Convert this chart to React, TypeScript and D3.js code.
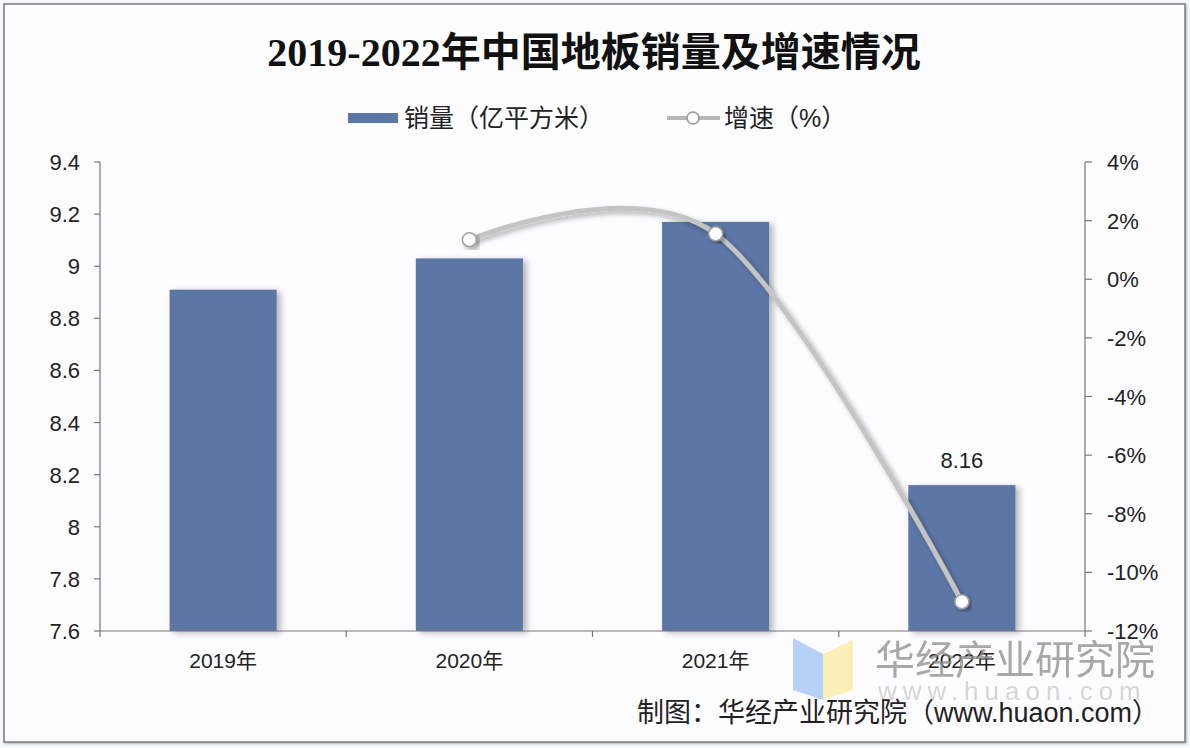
import React from "react";
import * as d3 from "d3";

const years = ["2019年", "2020年", "2021年", "2022年"];
const sales = [8.91, 9.03, 9.17, 8.16];
const growthYears = ["2020年", "2021年", "2022年"];
const growth = [1.35, 1.55, -11.0];
const leftTicks = [7.6, 7.8, 8, 8.2, 8.4, 8.6, 8.8, 9, 9.2, 9.4];
const rightTicks = [-12, -10, -8, -6, -4, -2, 0, 2, 4];
const labeledIndex = [3];

const W = 1190;
const H = 748;
const plot = { left: 100, right: 1085, top: 162, bottom: 631 };
const sansFont = "'Liberation Sans', Arial, 'Noto Sans CJK SC', sans-serif";
const cjkFont = "'Liberation Sans', 'Noto Sans CJK SC', sans-serif";

export default function App() {
  const x = d3.scaleBand().domain(years).range([plot.left, plot.right]).paddingInner(0.565).paddingOuter(0.2825);
  const yL = d3.scaleLinear().domain([7.6, 9.4]).range([plot.bottom, plot.top]);
  const yR = d3.scaleLinear().domain([-12, 4]).range([plot.bottom, plot.top]);
  const cx = (c: string) => (x(c) as number) + x.bandwidth() / 2;
  const step = x.step();
  const boundaries = d3.range(years.length + 1).map((i) => plot.left + i * step);

  const linePts: [number, number][] = growthYears.map((c, i) => [cx(c), yR(growth[i])]);
  const lineGen = d3.line().curve(d3.curveCatmullRom.alpha(0));
  const linePath = lineGen(linePts) || "";

  return (
    <svg width={W} height={H} style={{ position: "absolute", left: 0, top: 0, background: "#fff" }}>
      <defs>
        <filter id="barShadow" x="-20%" y="-10%" width="150%" height="130%">
          <feDropShadow dx="4" dy="2" stdDeviation="3" floodColor="#000" floodOpacity="0.28" />
        </filter>
        <filter id="lineShadow" x="-10%" y="-10%" width="130%" height="130%">
          <feDropShadow dx="3" dy="3" stdDeviation="2.5" floodColor="#000" floodOpacity="0.3" />
        </filter>
        <filter id="frameShadow" x="-5%" y="-5%" width="110%" height="110%">
          <feDropShadow dx="1" dy="1" stdDeviation="1" floodColor="#000" floodOpacity="0.3" />
        </filter>
      </defs>
      <rect x={0} y={0} width={W} height={H} fill="#f7f8fb" />
      <rect x={4} y={4} width={1181} height={738} fill="#fdfdff" stroke="#7a7a7a" strokeWidth={1.5} filter="url(#frameShadow)" />

      {/* Title */}
      <text x={594} y={66} textAnchor="middle" fontSize={40} fontWeight="bold" fill="#111"
        fontFamily="'Liberation Serif', 'Noto Sans CJK SC', serif">2019-2022年中国地板销量及增速情况</text>

      {/* Legend */}
      <rect x={348} y={113} width={50} height={10} fill="#5b77a6" />
      <text x={404} y={127} fontSize={25} fill="#222" fontFamily={cjkFont}>销量（亿平方米）</text>
      <line x1={667} x2={720} y1={118} y2={118} stroke="#b8b8b8" strokeWidth={4} />
      <circle cx={693} cy={118} r={6} fill="#fff" stroke="#999" strokeWidth={1.5} />
      <text x={724} y={127} fontSize={25} fill="#222" fontFamily={cjkFont}>增速（%）</text>

      {/* Bars */}
      {years.map((c, i) => (
        <rect key={c} x={x(c)} y={yL(sales[i])} width={x.bandwidth()} height={plot.bottom - yL(sales[i])}
          fill="#5b77a6" filter="url(#barShadow)" />
      ))}

      {/* Axes */}
      <line x1={plot.left} x2={plot.left} y1={plot.top} y2={plot.bottom} stroke="#777" strokeWidth={1.2} />
      {leftTicks.map((t) => (
        <g key={"l" + t}>
          <line x1={plot.left - 6} x2={plot.left} y1={yL(t)} y2={yL(t)} stroke="#777" strokeWidth={1.2} />
          <text x={80} y={yL(t) + 8} textAnchor="end" fontSize={22} fill="#222" fontFamily={sansFont}>{String(t)}</text>
        </g>
      ))}
      <line x1={plot.right} x2={plot.right} y1={plot.top} y2={plot.bottom} stroke="#777" strokeWidth={1.2} />
      {rightTicks.map((t) => (
        <g key={"r" + t}>
          <line x1={plot.right} x2={plot.right + 7} y1={yR(t)} y2={yR(t)} stroke="#777" strokeWidth={1.2} />
          <text x={1107} y={yR(t) + 8} textAnchor="start" fontSize={22} fill="#222" fontFamily={sansFont}>{t + "%"}</text>
        </g>
      ))}
      <line x1={plot.left} x2={plot.right} y1={plot.bottom} y2={plot.bottom} stroke="#777" strokeWidth={1.2} />
      {boundaries.map((b, i) => (
        <line key={"b" + i} x1={b} x2={b} y1={plot.bottom} y2={plot.bottom + 6} stroke="#777" strokeWidth={1.2} />
      ))}
      {years.map((c) => (
        <text key={"x" + c} x={cx(c)} y={668} textAnchor="middle" fontSize={21} fill="#222" fontFamily={cjkFont}>{c}</text>
      ))}

      {/* Line */}
      <path d={linePath} fill="none" stroke="#c4c4c4" strokeWidth={5} strokeLinecap="round" filter="url(#lineShadow)" />
      {linePts.map((p, i) => (
        <circle key={"p" + i} cx={p[0]} cy={p[1]} r={7} fill="#fff" stroke="#a0a0a0" strokeWidth={1.5} filter="url(#lineShadow)" />
      ))}

      {/* Data label */}
      {labeledIndex.map((i) => (
        <text key={"dl" + i} x={cx(years[i])} y={468} textAnchor="middle" fontSize={22} fill="#222" fontFamily={sansFont}>
          {sales[i].toFixed(2)}
        </text>
      ))}

      {/* Watermark */}
      <g opacity={0.75}>
        <polygon points="793,638 823,654 823,700 793,690" fill="#9ec3f2" />
        <polygon points="823,654 853,640 853,690 823,700" fill="#fbeaa0" />
        <text x={875} y={674} fontSize={40} fill="#8c8c8c" fontFamily={cjkFont}>华经产业研究院</text>
        <text x={878} y={700} fontSize={26} fill="#c8c8c8" letterSpacing={6} fontFamily={sansFont}>www.huaon.com</text>
      </g>

      {/* Footer */}
      <text x={1159} y={722} textAnchor="end" fontSize={27} fill="#222" fontFamily={cjkFont}>制图：华经产业研究院（www.huaon.com）</text>
    </svg>
  );
}
